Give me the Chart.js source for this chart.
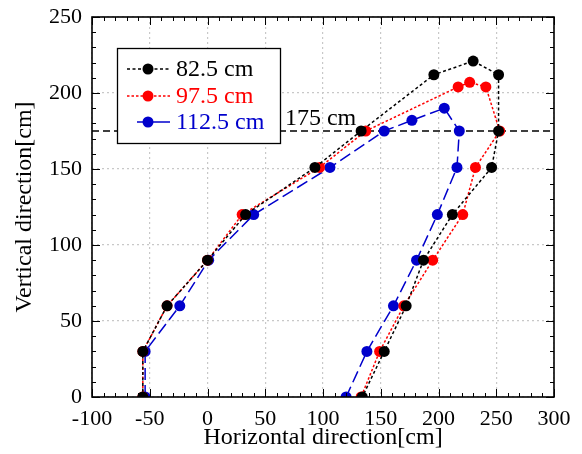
<!DOCTYPE html>
<html>
<head>
<meta charset="utf-8">
<script src="https://cdn.jsdelivr.net/npm/chart.js@4"></script>
<style>
  html, body { margin: 0; padding: 0; background: #fff; }
  #wrap { width: 582px; height: 454px; }
</style>
</head>
<body>
<div id="wrap"><canvas id="chart" width="582" height="454"></canvas></div>
<script>
// data
const labels = ['82.5 cm', '97.5 cm', '112.5 cm'];
const colors = ['#000000', '#ff0000', '#0000cc'];

const x825 = [-56, -56, -35, 0, 33, 93, 133, 196, 230, 252, 252, 246, 212, 187, 172, 153, 134];
const y825 = [0, 30, 60, 90, 120, 151, 175, 212, 221, 212, 175, 151, 120, 90, 60, 30, 0];

const x975 = [-56, -56, -35, 0, 30, 97, 137, 217, 227, 241, 253, 232, 221, 195, 170, 149, 133];
const y975 = [0, 30, 60, 90, 120, 151, 175, 204, 207, 204, 175, 151, 120, 90, 60, 30, 0];

const x1125 = [-54, -54, -24, 1, 40, 106, 153, 177, 205, 218, 216, 199, 181, 161, 138, 120];
const y1125 = [0, 30, 60, 90, 120, 151, 175, 182, 190, 175, 151, 120, 90, 60, 30, 0];

const refLineY = 175;
const refLabel = '175 cm';
const xMin = -100, xMax = 300, yMin = 0, yMax = 250;

const FONT = '"Liberation Serif", "Times New Roman", serif';

function pts(xs, ys){
  return xs.map((x, i) => ({ x: x, y: ys[i] }));
}

const dashes = [[3, 2.5], [2.5, 2], [12, 5]];

function makeSet(i, xs, ys){
  return {
    label: labels[i],
    data: pts(xs, ys),
    showLine: true,
    borderColor: colors[i],
    backgroundColor: colors[i],
    borderWidth: 1.5,
    borderDash: dashes[i],
    pointRadius: 5.5,
    pointBorderWidth: 0,
    pointBackgroundColor: colors[i],
    tension: 0
  };
}

// frame, inward ticks, 175 cm line, legend box
const decor = {
  id: 'decor',
  beforeDatasetsDraw(chart){
    const ctx = chart.ctx;
    const a = chart.chartArea;
    const ys = chart.scales.y;
    const py = ys.getPixelForValue(refLineY);
    ctx.save();
    ctx.strokeStyle = '#000';
    ctx.lineWidth = 1.3;
    ctx.setLineDash([7, 4]);
    ctx.beginPath();
    ctx.moveTo(a.left, py);
    ctx.lineTo(a.right, py);
    ctx.stroke();
    ctx.setLineDash([]);
    ctx.fillStyle = '#000';
    ctx.font = '24px ' + FONT;
    ctx.textBaseline = 'alphabetic';
    ctx.fillText(refLabel, chart.scales.x.getPixelForValue(67), py - 6);
    ctx.restore();
  },
  afterDatasetsDraw(chart){
    const ctx = chart.ctx;
    const a = chart.chartArea;
    const xs = chart.scales.x, ys = chart.scales.y;
    ctx.save();
    ctx.strokeStyle = '#000';
    ctx.lineWidth = 1;
    ctx.beginPath();
    for (let v = xMin; v <= xMax; v += 10){
      const px = Math.round(xs.getPixelForValue(v)) + 0.5;
      const len = v % 50 === 0 ? 8 : 4;
      ctx.moveTo(px, a.bottom); ctx.lineTo(px, a.bottom - len);
      ctx.moveTo(px, a.top); ctx.lineTo(px, a.top + len);
    }
    for (let v = yMin; v <= yMax; v += 10){
      const py = Math.round(ys.getPixelForValue(v)) + 0.5;
      const len = v % 50 === 0 ? 8 : 4;
      ctx.moveTo(a.left, py); ctx.lineTo(a.left + len, py);
      ctx.moveTo(a.right, py); ctx.lineTo(a.right - len, py);
    }
    ctx.stroke();
    ctx.lineWidth = 1.6;
    ctx.strokeRect(a.left, a.top, a.right - a.left, a.bottom - a.top);

    // legend
    const bx = 117, by = 48, bw = 163, bh = 95;
    ctx.fillStyle = '#fff';
    ctx.fillRect(bx, by, bw, bh);
    ctx.lineWidth = 1.3;
    ctx.strokeStyle = '#000';
    ctx.strokeRect(bx + 0.5, by + 0.5, bw, bh);
    const rows = [69, 96, 122];
    const legDash = [[3, 2.5], [2.5, 2], []];
    ctx.font = '24px ' + FONT;
    ctx.textBaseline = 'middle';
    rows.forEach((ry, i) => {
      ctx.strokeStyle = colors[i];
      ctx.lineWidth = 1.4;
      ctx.setLineDash(legDash[i]);
      ctx.beginPath();
      ctx.moveTo(i === 2 ? 137 : 127, ry);
      ctx.lineTo(170, ry);
      ctx.stroke();
      ctx.setLineDash([]);
      ctx.fillStyle = colors[i];
      ctx.beginPath();
      ctx.arc(148, ry, 5.5, 0, Math.PI * 2);
      ctx.fill();
      ctx.fillText(labels[i], 176, ry + 1);
    });
    ctx.restore();
  }
};

const ctx = document.getElementById('chart');
new Chart(ctx, {
  type: 'scatter',
  data: {
    datasets: [
      makeSet(0, x825, y825),
      makeSet(1, x975, y975),
      makeSet(2, x1125, y1125)
    ]
  },
  options: {
    responsive: false,
    animation: false,
    layout: { padding: { top: 17, right: 28, left: 0, bottom: 0 } },
    plugins: {
      legend: { display: false },
      tooltip: { enabled: false }
    },
    scales: {
      x: {
        type: 'linear',
        min: xMin, max: xMax,
        ticks: { stepSize: 50, color: '#000', padding: 9, font: { family: FONT, size: 22 }, maxRotation: 0 },
        grid: { color: '#c8c8c8', lineWidth: 1.2, drawTicks: false },
        border: { display: false, dash: [2, 3] },
        title: { display: true, text: 'Horizontal direction[cm]', color: '#000',
                 font: { family: FONT, size: 24 }, padding: { top: 0, bottom: 2 } },
        afterFit(s){ s.height = 57; s.paddingLeft = 0; s.paddingRight = 0; }
      },
      y: {
        type: 'linear',
        min: yMin, max: yMax,
        ticks: { stepSize: 50, color: '#000', padding: 10, font: { family: FONT, size: 22 } },
        grid: { color: '#c8c8c8', lineWidth: 1.2, drawTicks: false },
        border: { display: false, dash: [2, 3] },
        title: { display: true, text: 'Vertical direction[cm]', color: '#000',
                 font: { family: FONT, size: 24 }, padding: { top: 10, bottom: 0 } },
        afterFit(s){ s.width = 92; s.paddingTop = 0; s.paddingBottom = 0; }
      }
    }
  },
  plugins: [decor]
});
</script>
</body>
</html>
